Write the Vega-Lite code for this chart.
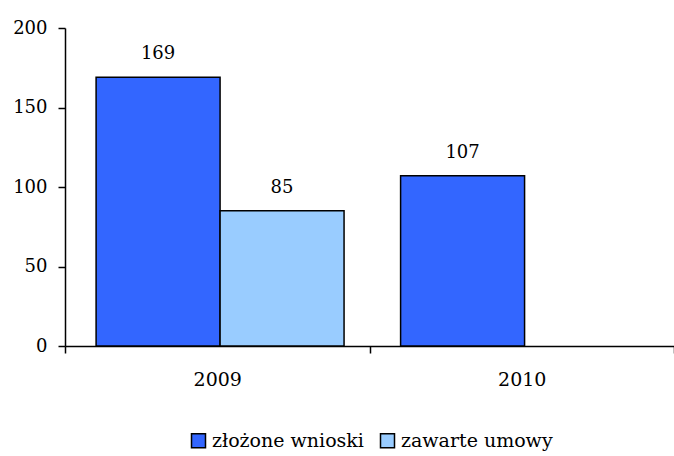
{
  "$schema": "https://vega.github.io/schema/vega-lite/v6.json",
  "width": 609,
  "height": 318,
  "autosize": {"type": "none"},
  "padding": {"left": 65, "top": 28, "right": 0, "bottom": 110},
  "background": "white",
  "config": {
    "view": {"stroke": null},
    "font": "DejaVu Serif"
  },
  "data": {
    "values": [
      {"rok": "2009", "seria": "złożone wnioski", "wartosc": 169},
      {"rok": "2009", "seria": "zawarte umowy", "wartosc": 85},
      {"rok": "2010", "seria": "złożone wnioski", "wartosc": 107},
      {"rok": "2010", "seria": "zawarte umowy", "wartosc": 0}
    ]
  },
  "encoding": {
    "x": {
      "field": "rok",
      "type": "nominal",
      "scale": {"paddingInner": 0, "paddingOuter": 0},
      "axis": {
        "title": null,
        "labelAngle": 0,
        "labelFont": "DejaVu Serif",
        "labelFontSize": 19,
        "labelColor": "black",
        "labelPadding": 17,
        "tickBand": "extent",
        "tickSize": 7,
        "tickColor": "black",
        "tickWidth": 1.5,
        "domainColor": "black",
        "domainWidth": 1.5
      }
    },
    "xOffset": {
      "field": "seria",
      "type": "nominal",
      "sort": ["złożone wnioski", "zawarte umowy"],
      "scale": {"paddingInner": 0, "paddingOuter": 0.228, "align": 0.55}
    },
    "y": {
      "field": "wartosc",
      "type": "quantitative",
      "scale": {"domain": [0, 200], "nice": false},
      "axis": {
        "title": null,
        "values": [0, 50, 100, 150, 200],
        "grid": false,
        "labelFont": "DejaVu Serif",
        "labelFontSize": 18,
        "labelColor": "black",
        "labelPadding": 11,
        "tickSize": 7,
        "tickColor": "black",
        "tickWidth": 1.5,
        "domainColor": "black",
        "domainWidth": 1.5
      }
    }
  },
  "layer": [
    {
      "transform": [{"filter": "datum.wartosc > 0"}],
      "mark": {"type": "bar", "stroke": "black", "strokeWidth": 1.5},
      "encoding": {
        "color": {
          "field": "seria",
          "type": "nominal",
          "sort": ["złożone wnioski", "zawarte umowy"],
          "scale": {"domain": ["złożone wnioski", "zawarte umowy"], "range": ["#3366FF", "#99CCFF"]},
          "legend": {
            "title": null,
            "orient": "none",
            "direction": "horizontal",
            "legendX": 124,
            "legendY": 403,
            "symbolType": "square",
            "symbolSize": 196,
            "symbolStrokeColor": "black",
            "symbolStrokeWidth": 1.5,
            "symbolOpacity": 1,
            "labelFont": "DejaVu Serif",
            "labelFontSize": 19,
            "labelColor": "black",
            "labelOffset": 4,
            "columnPadding": 13
          }
        }
      }
    },
    {
      "transform": [{"filter": "datum.wartosc > 0"}],
      "mark": {"type": "text", "baseline": "alphabetic", "dy": -18, "fontSize": 18, "font": "DejaVu Serif", "color": "black"},
      "encoding": {
        "text": {"field": "wartosc", "type": "quantitative"}
      }
    }
  ]
}
